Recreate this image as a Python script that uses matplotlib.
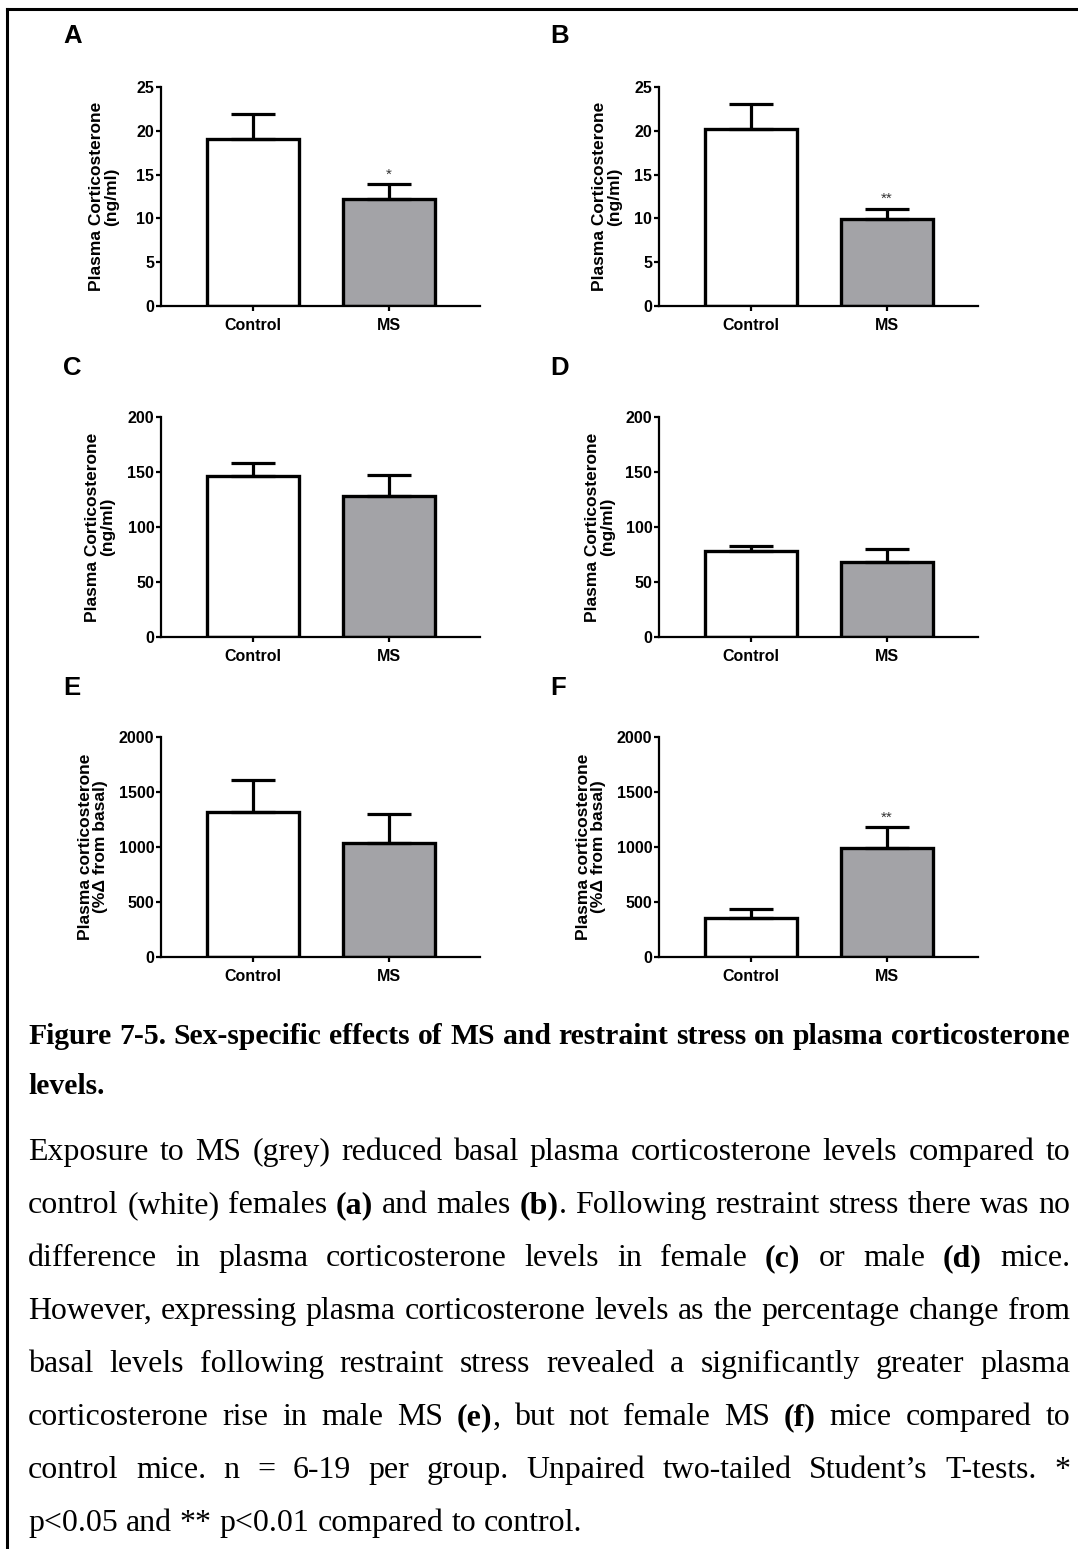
import re
import matplotlib
matplotlib.use("Agg")
import matplotlib.pyplot as plt
from matplotlib.lines import Line2D

# ---------------- data ----------------
categories = ["Control", "MS"]

means_A = [19.1, 12.2]
sem_A = [2.8, 1.7]
sig_A = ["", "*"]

means_B = [20.2, 9.9]
sem_B = [2.9, 1.2]
sig_B = ["", "**"]

means_C = [146.5, 128.3]
sem_C = [11.5, 19.1]
sig_C = ["", ""]

means_D = [78.1, 67.8]
sem_D = [4.6, 12.2]
sig_D = ["", ""]

means_E = [1322, 1040]
sem_E = [283, 261]
sig_E = ["", ""]

means_F = [359, 994]
sem_F = [73, 186]
sig_F = ["", "**"]

yticks_AB = [0, 5, 10, 15, 20, 25]
yticks_CD = [0, 50, 100, 150, 200]
yticks_EF = [0, 500, 1000, 1500, 2000]

ylabel_conc = "Plasma Corticosterone\n(ng/ml)"
ylabel_pct = "Plasma corticosterone\n(%\u0394 from basal)"

panel_letters = ["A", "B", "C", "D", "E", "F"]

caption_lines = [
    ("Figure 7-5. Sex-specific effects of MS and restraint stress on plasma corticosterone", True, True),
    ("levels.", True, False),
    ("Exposure to MS (grey) reduced basal plasma corticosterone levels compared to", False, True),
    ("control (white) females {(a)} and males {(b)}. Following restraint stress there was no", False, True),
    ("difference in plasma corticosterone levels in female {(c)} or male {(d)} mice.", False, True),
    ("However, expressing plasma corticosterone levels as the percentage change from", False, True),
    ("basal levels following restraint stress revealed a significantly greater plasma", False, True),
    ("corticosterone rise in male MS {(e)}, but not female MS {(f)} mice compared to", False, True),
    ("control mice. n = 6-19 per group. Unpaired two-tailed Student\u2019s T-tests. *", False, True),
    ("p<0.05 and ** p<0.01 compared to control.", False, False),
]

# ---------------- layout ----------------
W, H = 1078, 1549
fig = plt.figure(figsize=(W / 100, H / 100), dpi=100)
fig.patch.set_facecolor("white")

SANS = ["Liberation Sans", "DejaVu Sans"]
SERIF = ["Liberation Serif", "DejaVu Serif"]
BAR_COLORS = ["#ffffff", "#a3a3a7"]


def px_axes(left, top, right, bottom):
    return fig.add_axes([left / W, 1 - bottom / H, (right - left) / W, (bottom - top) / H])


def bar_panel(ax, means, sems, sigs, yticks, ylabel, label_x_px, left_px):
    x = list(range(len(categories)))
    ax.bar(x, means, width=0.676, color=BAR_COLORS, edgecolor="black",
           linewidth=2.4, zorder=2)
    ax.errorbar(x, means, yerr=[[0] * len(sems), sems], fmt="none",
                ecolor="black", elinewidth=2.3, capsize=15.5, capthick=2.3, zorder=3)
    for xi, m, s, sg in zip(x, means, sems, sigs):
        if sg:
            ax.annotate(sg, (xi, m + s), xytext=(0, 2), textcoords="offset points",
                        ha="center", va="bottom", fontsize=11, color="#333333",
                        family=SANS)
    ax.set_xlim(-0.676, 1.669)
    ax.set_ylim(yticks[0], yticks[-1])
    ax.set_yticks(yticks)
    ax.set_xticks(x)
    ax.set_xticklabels(categories)
    for sp in ("top", "right"):
        ax.spines[sp].set_visible(False)
    for sp in ("left", "bottom"):
        ax.spines[sp].set_linewidth(1.6)
    ax.tick_params(axis="y", direction="out", length=3.8, width=1.6, pad=1,
                   labelsize=11.5)
    ax.tick_params(axis="x", direction="out", length=3.8, width=1.6, pad=5,
                   labelsize=11.5)
    for lab in ax.get_xticklabels() + ax.get_yticklabels():
        lab.set_fontweight("bold")
        lab.set_family(SANS)
    ax.set_ylabel(ylabel, fontsize=12.5, fontweight="bold", family=SANS,
                  va="center", linespacing=1.0)
    w = ax.get_position().width * W
    ax.yaxis.set_label_coords((label_x_px - left_px) / w, 0.5)
    ax.set_facecolor("none")


rows = [(87, 306), (417, 637), (737, 957)]
cols = [(161, 480), (659, 978)]
panels = [
    (means_A, sem_A, sig_A, yticks_AB, ylabel_conc, 104),
    (means_B, sem_B, sig_B, yticks_AB, ylabel_conc, 607),
    (means_C, sem_C, sig_C, yticks_CD, ylabel_conc, 100),
    (means_D, sem_D, sig_D, yticks_CD, ylabel_conc, 600),
    (means_E, sem_E, sig_E, yticks_EF, ylabel_pct, 93),
    (means_F, sem_F, sig_F, yticks_EF, ylabel_pct, 591),
]
letter_pos = [(63, 43), (550, 43), (63, 375), (550, 375), (63, 695), (550, 695)]

for i, (m, s, sg, yt, yl, lx) in enumerate(panels):
    r, c = divmod(i, 2)
    top, bottom = rows[r]
    left, right = cols[c]
    ax = px_axes(left, top, right, bottom)
    bar_panel(ax, m, s, sg, yt, yl, lx, left)
    lxp, lyp = letter_pos[i]
    fig.text(lxp / W, 1 - lyp / H, panel_letters[i], fontsize=18.5, fontweight="bold",
             family=SANS, ha="left", va="baseline")

# frame lines (top and left)
fig.add_artist(Line2D([7 / W, 1.0], [1 - 9 / H, 1 - 9 / H], color="black", lw=2.2,
                      transform=fig.transFigure))
fig.add_artist(Line2D([7 / W, 7 / W], [1 - 9 / H, 0.0], color="black", lw=2.2,
                      transform=fig.transFigure))

# ---------------- caption (justified) ----------------
renderer = fig.canvas.get_renderer()
CAP_LEFT, CAP_RIGHT = 28, 1070


def parse_words(text, all_bold):
    words = []
    for w in text.split(" "):
        segs = []
        for m in re.finditer(r"\{([^}]*)\}|([^{}]+)", w):
            if m.group(1) is not None:
                segs.append((m.group(1), True))
            else:
                segs.append((m.group(2), all_bold))
        words.append(segs)
    return words


def measure(txt, bold, size):
    t = fig.text(0, 0, txt, fontsize=size, family=SERIF,
                 fontweight="bold" if bold else "normal")
    w = t.get_window_extent(renderer).width
    t.remove()
    return w


def word_width(segs, size):
    return sum(measure(s, b, size) for s, b in segs)


def fit_ratio(text, ab, size):
    words = parse_words(text, ab)
    nat = sum(word_width(wd, size) for wd in words) + 0.25 * size * 100 / 72 * (len(words) - 1)
    return (CAP_RIGHT - CAP_LEFT) / nat


base = 20.0
title_size = base * fit_ratio(*caption_lines[0][:2], base) * 0.997
body_size = base * min(fit_ratio(t, ab, base) for t, ab, j in caption_lines[2:] if j) * 0.99

baselines = [1044, 1094, 1160, 1213, 1266, 1319, 1372, 1425, 1478, 1531]

for k, ((text, ab, just), yb) in enumerate(zip(caption_lines, baselines)):
    size = title_size if k < 2 else body_size
    words = parse_words(text, ab)
    widths = [word_width(wd, size) for wd in words]
    if just and len(words) > 1:
        gap = (CAP_RIGHT - CAP_LEFT - sum(widths)) / (len(words) - 1)
    else:
        gap = 0.25 * size * 100 / 72
    x = CAP_LEFT
    for wd, ww in zip(words, widths):
        xx = x
        for s, b in wd:
            fig.text(xx / W, 1 - yb / H, s, fontsize=size, family=SERIF,
                     fontweight="bold" if b else "normal", ha="left", va="baseline")
            xx += measure(s, b, size)
        x += ww + gap

fig.savefig("out.png", dpi=100, facecolor="white")
